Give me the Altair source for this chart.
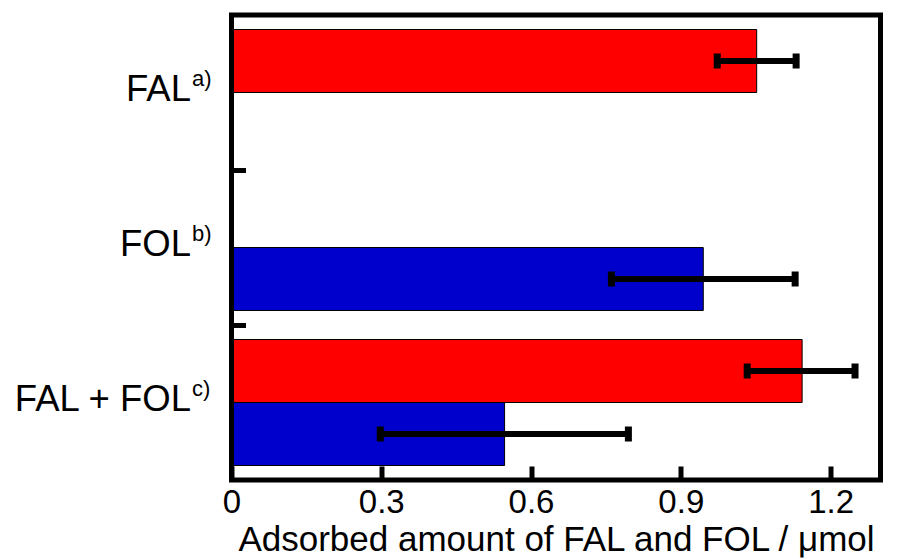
import altair as alt
import pandas as pd

# ---- data ----
categories = ["FAL", "FOL", "FAL + FOL"]
superscripts = ["a)", "b)", "c)"]
series_names = ["FAL", "FOL"]
series_colors = ["#FF0000", "#0000CC"]

bar_category = ["FAL", "FOL", "FAL + FOL", "FAL + FOL"]
bar_series = ["FAL", "FOL", "FAL", "FOL"]
bar_value = [1.052, 0.945, 1.143, 0.547]
err_low = [0.973, 0.761, 1.033, 0.298]
err_high = [1.131, 1.129, 1.249, 0.795]

x_tick_values = [0, 0.3, 0.6, 0.9, 1.2]
x_title = "Adsorbed amount of FAL and FOL / μmol"

bars_df = pd.DataFrame({
    "cat": bar_category, "series": bar_series,
    "val": bar_value, "lo": err_low, "hi": err_high,
})
labels_df = pd.DataFrame({"cat": categories, "sup": superscripts})

FONT = "Liberation Sans, Arial, Helvetica, sans-serif"
W, H = 649, 465

x_scale = alt.Scale(domain=[0, 1.3], nice=False, zero=True)
y_scale = alt.Scale(domain=categories, paddingInner=29 / 155, paddingOuter=14.5 / 155)
yoff = alt.YOffset("series:N", sort=series_names,
                   scale=alt.Scale(domain=series_names, paddingInner=0, paddingOuter=0))

x_axis = alt.Axis(values=x_tick_values, format=".1~f", title=x_title,
                  domain=False, grid=False, ticks=True, tickSize=14, tickWidth=5,
                  tickColor="black", offset=-14, labelPadding=6,
                  labelFontSize=33, labelFont=FONT, labelColor="black",
                  titleFontSize=35, titleFont=FONT, titleFontWeight="normal",
                  titleColor="black", titlePadding=3, labelFlush=False)
y_axis = alt.Axis(title=None, labels=False, domain=False, grid=False, ticks=True,
                  tickSize=14, tickWidth=5, tickColor="black", bandPosition=1,
                  tickOffset=14.5, offset=-14, values=["FAL", "FOL"])

X = alt.X("val:Q", scale=x_scale, axis=x_axis)
Y = alt.Y("cat:N", sort=categories, scale=y_scale, axis=y_axis)

base = alt.Chart(bars_df)

bars = base.mark_bar(stroke="black", strokeWidth=1).encode(
    x=X, y=Y, yOffset=yoff,
    color=alt.Color("series:N", scale=alt.Scale(domain=series_names, range=series_colors),
                    legend=None),
)

err = base.mark_rule(color="black", strokeWidth=6).encode(
    x=alt.X("lo:Q", scale=x_scale), x2="hi:Q", y=Y, yOffset=yoff)
cap_lo = base.mark_tick(color="black", size=15, thickness=7, opacity=1).encode(
    x=alt.X("lo:Q", scale=x_scale), y=Y, yOffset=yoff)
cap_hi = base.mark_tick(color="black", size=15, thickness=7, opacity=1).encode(
    x=alt.X("hi:Q", scale=x_scale), y=Y, yOffset=yoff)

lab = alt.Chart(labels_df).mark_text(
    align="right", baseline="alphabetic", fontSize=36.5, font=FONT, color="black", dy=8
).encode(y=Y, x=alt.value(-40.5), text="cat:N")
sup = alt.Chart(labels_df).mark_text(
    align="left", baseline="alphabetic", fontSize=22, font=FONT, color="black", dy=-6.5, dx=1
).encode(y=Y, x=alt.value(-40.5), text="sup:N")

frame = alt.Chart(pd.DataFrame({"d": [0]})).mark_rect(
    filled=False, stroke="black", strokeWidth=5
).encode(opacity=alt.value(1))

chart = alt.layer(bars, err, cap_lo, cap_hi, lab, sup, frame).properties(
    width=W, height=H,
    autosize="none",
    padding={"left": 231.5, "top": 15, "right": 18.5, "bottom": 79},
).configure_view(stroke=None).configure(font=FONT)

chart.save("out.html", embed_options={"renderer": "svg", "actions": False})
